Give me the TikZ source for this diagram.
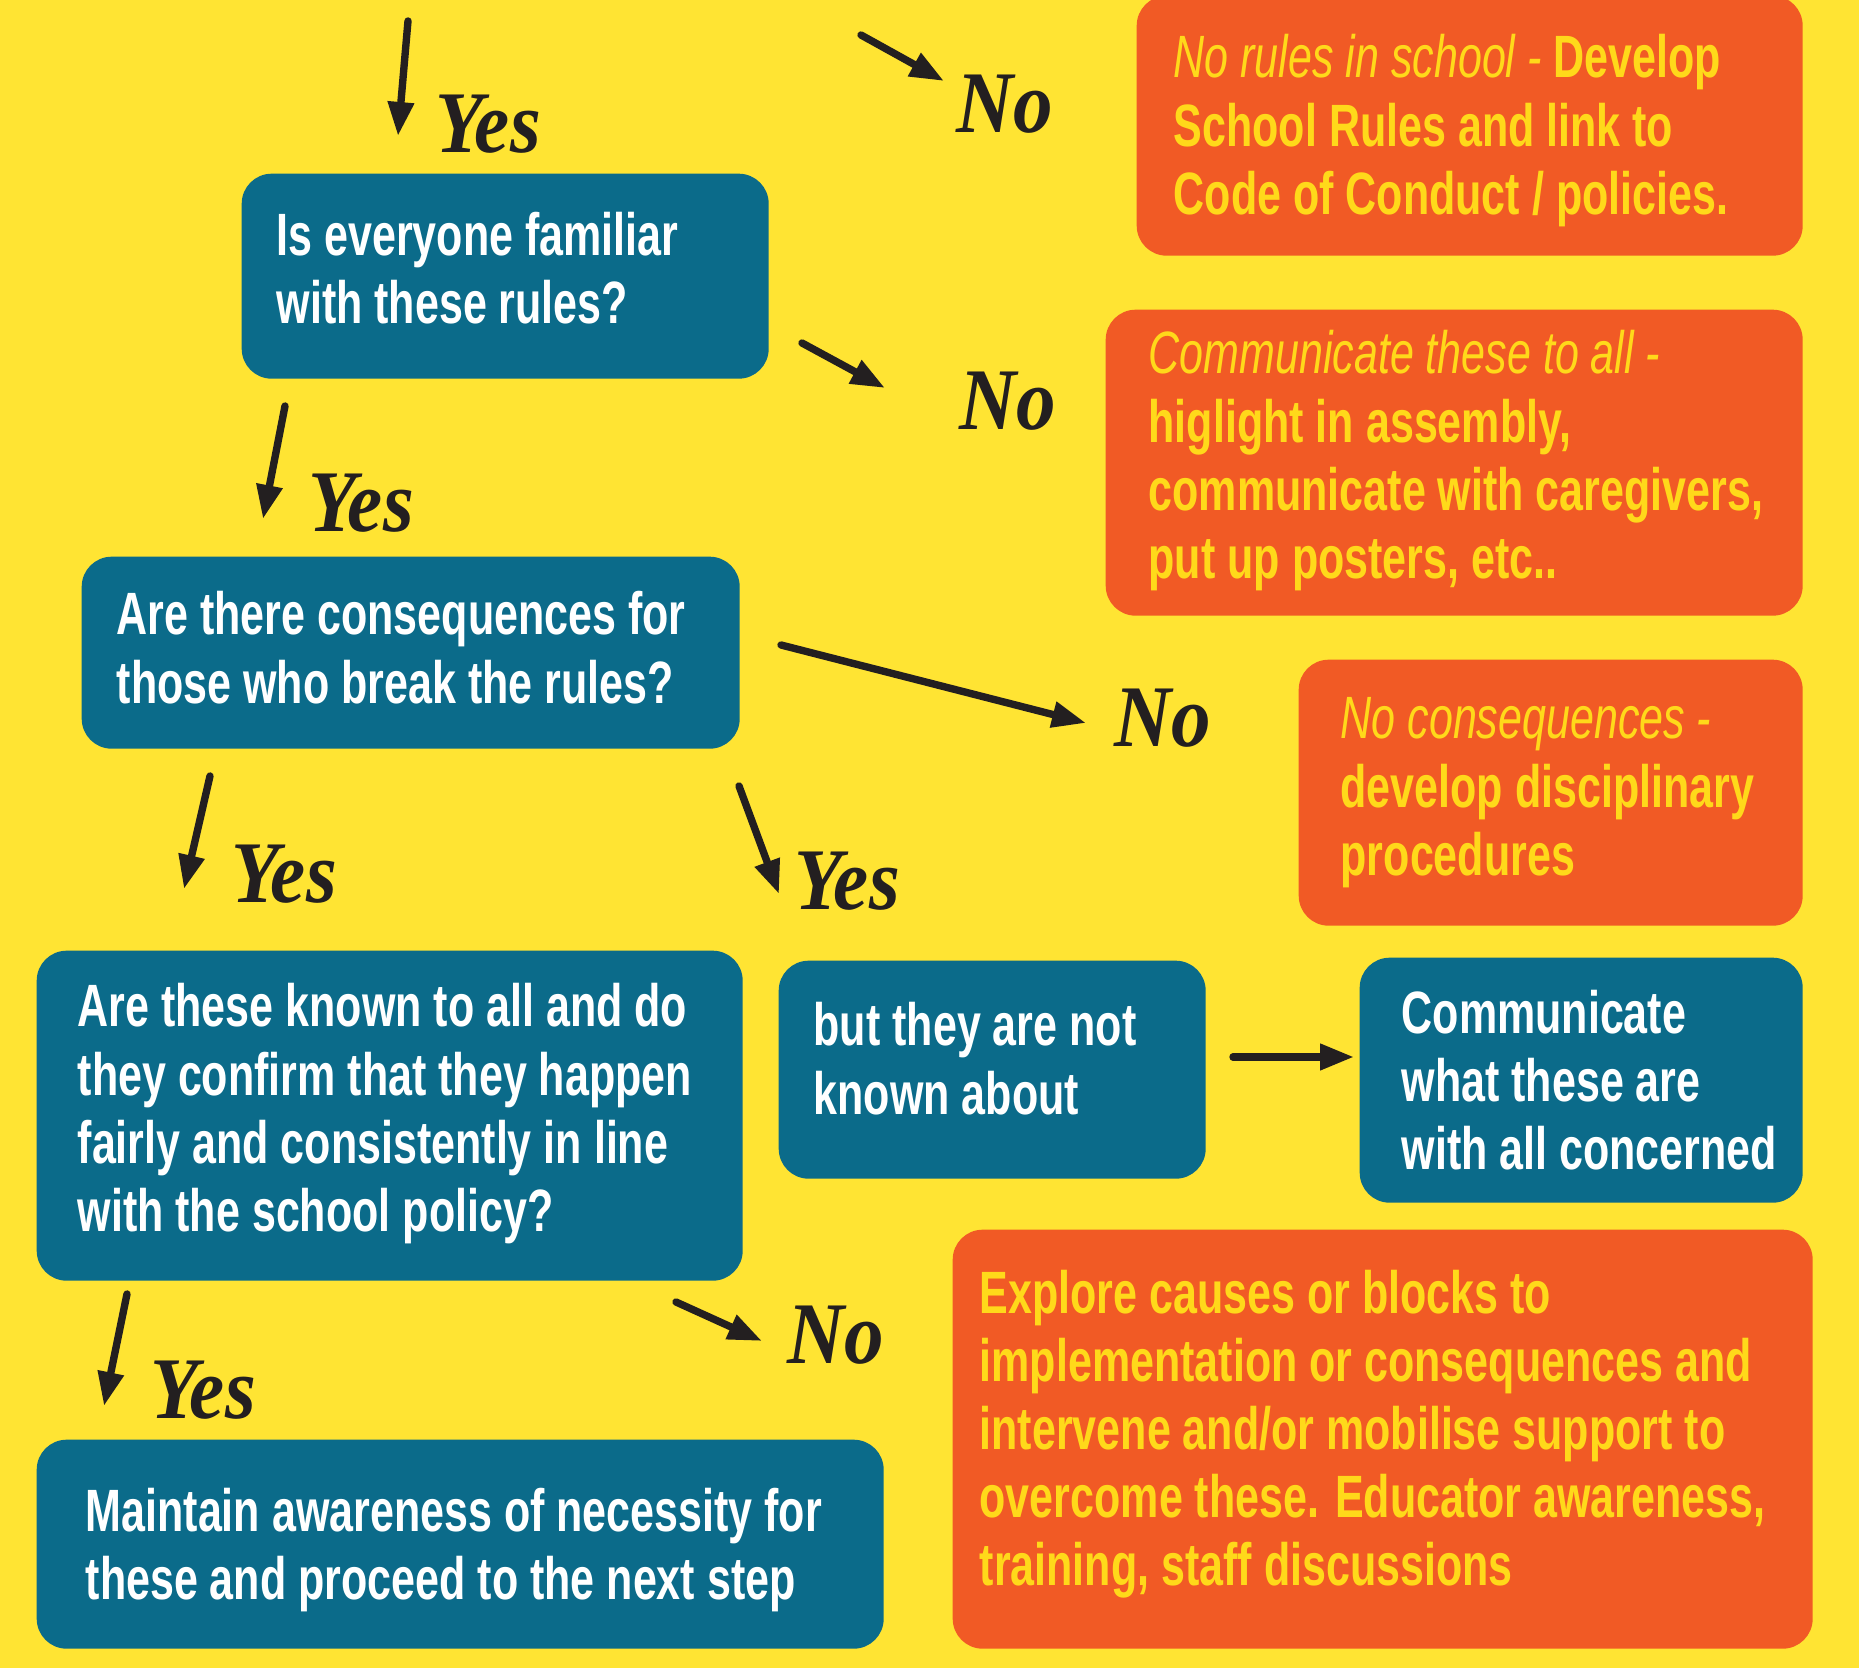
\documentclass[tikz,border=0pt]{standalone}
\usepackage{fontspec}
\usepackage{tikz}
\usetikzlibrary{positioning, calc, arrows.meta}

\newfontfamily\boxfont[FakeStretch=0.72]{Liberation Sans}
\newfontfamily\answerfont[FakeStretch=0.9]{Liberation Serif}

\definecolor{bgyellow}{HTML}{FFE433}
\definecolor{qblue}{HTML}{0B6B8A}
\definecolor{actred}{HTML}{F15A25}
\definecolor{txtyellow}{HTML}{FFD91A}
\definecolor{ink}{HTML}{231F20}

\tikzset{
  qbox/.style={fill=qblue, rounded corners=3mm, anchor=north west, inner sep=0pt},
  actbox/.style={fill=actred, rounded corners=3mm, anchor=north west, inner sep=0pt},
  qtext/.style={anchor=west, align=left, inner sep=0pt, text=white,
    font=\boxfont\bfseries\fontsize{17pt}{19.4pt}\selectfont},
  acttext/.style={qtext, text=txtyellow},
  answer/.style={font=\answerfont\bfseries\itshape\fontsize{25pt}{25pt}\selectfont,
    text=ink, inner sep=0pt},
  flowarrow/.style={-{Triangle[length=3.4mm, width=2.5mm]}, line width=2.1pt,
    line cap=round, draw=ink}
}

\begin{document}
\begin{tikzpicture}[x=0.1mm, y=-0.1mm]

        % Background
        \fill[bgyellow] (0,0) rectangle (1859,1668);
        \useasboundingbox (0,0) rectangle (1859,1668);

        % Question boxes
        \node[qbox, minimum width=52.7mm, minimum height=20.5mm] (q1) at (241,173) {};
        \node[qtext] (q1txt) at ($(q1.west)+(35,-8)$) {Is everyone familiar\\with these rules?};

        \node[qbox, minimum width=65.8mm, minimum height=19.2mm] (q2) at (81,556) {};
        \node[qtext] (q2txt) at ($(q2.west)+(35,-5)$) {Are there consequences for\\those who break the rules?};

        \node[qbox, minimum width=70.6mm, minimum height=33mm] (q3) at (36,950) {};
        \node[qtext] (q3txt) at ($(q3.west)+(41,-2)$) {Are these known to all and do\\they confirm that they happen\\fairly and consistently in line\\with the school policy?};

        \node[qbox, minimum width=42.7mm, minimum height=21.8mm] (notknown) at (778,960) {};
        \node[qtext] (notknowntxt) at ($(notknown.west)+(35,-11)$) {but they are not\\known about};

        \node[qbox, minimum width=44.3mm, minimum height=24.5mm] (commwhat) at (1359,957) {};
        \node[qtext] (commwhattxt) at ($(commwhat.west)+(42,0)$) {Communicate\\what these are\\with all concerned};

        \node[qbox, minimum width=84.7mm, minimum height=20.9mm] (maintain) at (36,1439) {};
        \node[qtext] (maintaintxt) at ($(maintain.west)+(49,6)$) {Maintain awareness of necessity for\\these and proceed to the next step};

        % Action boxes
        \node[actbox, minimum width=66.6mm, minimum height=26mm] (norules) at (1136,-5) {};
        \node[acttext] (norulestxt) at ($(norules.west)+(37,5)$) {{\mdseries\itshape No rules in school -} Develop\\School Rules and link to\\Code of Conduct / policies.};

        \node[actbox, minimum width=69.7mm, minimum height=30.6mm] (commall) at (1105,309) {};
        \node[acttext] (commalltxt) at ($(commall.west)+(43,-2)$) {{\mdseries\itshape Communicate these to all -}\\higlight in assembly,\\communicate with caregivers,\\put up posters, etc..};

        \node[actbox, minimum width=50.4mm, minimum height=26.6mm] (nocons) at (1298,659) {};
        \node[acttext] (noconstxt) at ($(nocons.west)+(42,0)$) {{\mdseries\itshape No consequences -}\\develop disciplinary\\procedures};

        \node[actbox, minimum width=86mm, minimum height=41.9mm] (explore) at (952,1229) {};
        \node[acttext] (exploretxt) at ($(explore.west)+(27,-5)$) {Explore causes or blocks to\\implementation or consequences and\\intervene and/or mobilise support to\\overcome these. Educator awareness,\\training, staff discussions};

        % Yes / No labels
        \node[answer] (yes1) at (488,124) {Yes};
        \node[answer] (no1) at (1005,104) {No};
        \node[answer] (no2) at (1008,401) {No};
        \node[answer] (yes2) at (361,503) {Yes};
        \node[answer] (no3) at (1163,718) {No};
        \node[answer] (yes3) at (284,874) {Yes};
        \node[answer] (yes4) at (847,881) {Yes};
        \node[answer] (yes5) at (203,1390) {Yes};
        \node[answer] (no4) at (836,1335) {No};

        % Arrow ends
        \coordinate (a1s) at (408,21);   \coordinate (a1e) at (398,136);
        \coordinate (n1s) at (861,35);   \coordinate (n1e) at (944,81);
        \coordinate (n2s) at (802,343);  \coordinate (n2e) at (885,388);
        \coordinate (a2s) at (285,406);  \coordinate (a2e) at (263,519);
        \coordinate (n3s) at (781,645);  \coordinate (n3e) at (1086,723);
        \coordinate (a3s) at (210,776);  \coordinate (a3e) at (184,889);
        \coordinate (a4s) at (739,786);  \coordinate (a4e) at (779,894);
        \coordinate (hs) at (1233,1057); \coordinate (he) at (1354,1057);
        \coordinate (a5s) at (127,1294); \coordinate (a5e) at (104,1406);
        \coordinate (n4s) at (676,1302); \coordinate (n4e) at (762,1341);

        % Arrows
        \foreach \s/\e in {a1s/a1e, n1s/n1e, n2s/n2e, a2s/a2e, n3s/n3e,
                           a3s/a3e, a4s/a4e, hs/he, a5s/a5e, n4s/n4e}
            \draw[flowarrow] (\s) -- (\e);

\end{tikzpicture}
\end{document}
